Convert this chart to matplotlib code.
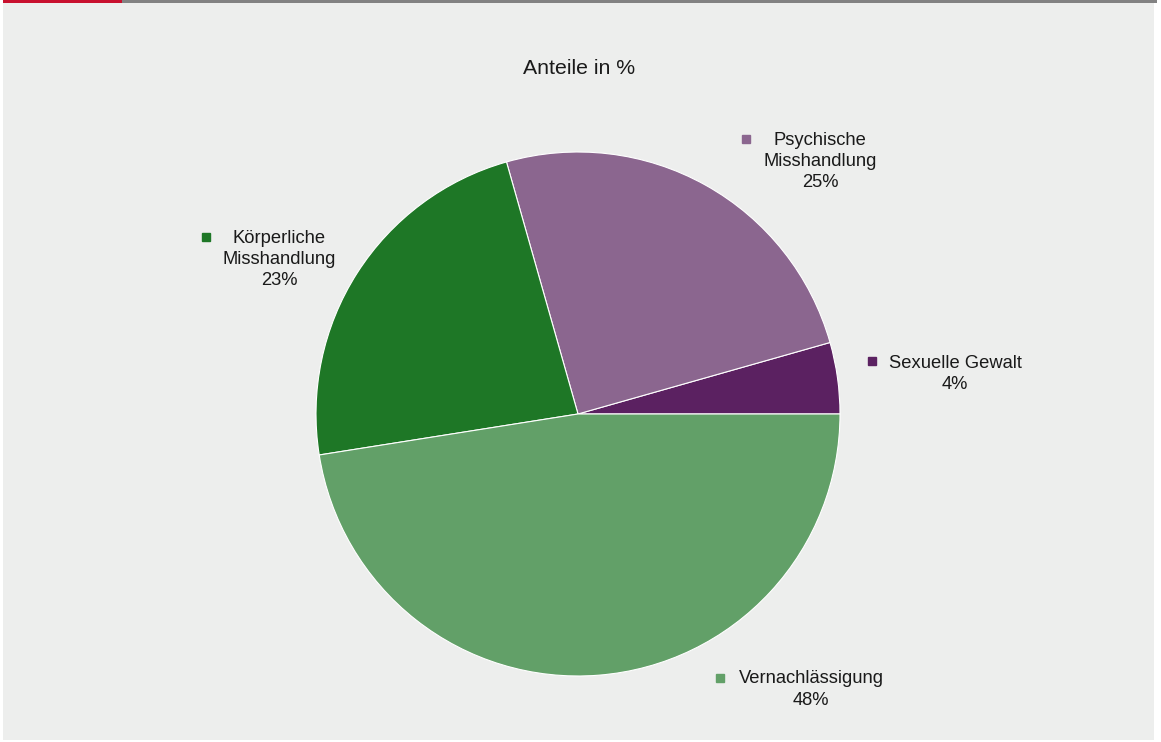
import matplotlib
matplotlib.use('Agg')
import matplotlib.pyplot as plt
from matplotlib.patches import Rectangle

# data (percent shares)
categories = ['Sexuelle Gewalt', 'Psychische Misshandlung', 'Körperliche Misshandlung', 'Vernachlässigung']
label_texts = ['Sexuelle Gewalt\n4%', 'Psychische\nMisshandlung\n25%',
               'Körperliche\nMisshandlung\n23%', 'Vernachlässigung\n48%']
shares = [4.4, 25.0, 23.1, 47.5]
colors = ['#5b2161', '#8b668f', '#1e7726', '#62a068']

# label layout in pixel coords (y from top), marker positions
label_xy = [(955, 374), (820, 161.5), (279, 259.5), (811, 689.5)]
marker_xy = [(872, 361), (746, 139), (206, 237), (720, 678)]

W, H = 1161, 742
bg = '#edeeed'

plt.rcParams['font.family'] = ['Liberation Sans', 'DejaVu Sans']

fig = plt.figure(figsize=(W / 100, H / 100), dpi=100)
fig.patch.set_facecolor('white')

# background panel and top rule
fig.patches.append(Rectangle((3 / W, 2 / H), (1154 - 3) / W, (H - 2) / H,
                             transform=fig.transFigure, facecolor=bg, edgecolor='none', zorder=-2))
fig.patches.append(Rectangle((122 / W, (H - 2.5) / H), (1157 - 122) / W, 2.5 / H,
                             transform=fig.transFigure, facecolor='#828282', edgecolor='none', zorder=-1))
fig.patches.append(Rectangle((3 / W, (H - 2.5) / H), (122 - 3) / W, 2.5 / H,
                             transform=fig.transFigure, facecolor='#c8102e', edgecolor='none', zorder=-1))

ax = fig.add_axes([0, 0, 1, 1])
ax.pie(shares, colors=colors, startangle=0, counterclock=False,
       center=(578, 414), radius=262,
       wedgeprops=dict(edgecolor='white', linewidth=0.8), frame=True)
ax.set_xlim(0, W)
ax.set_ylim(H, 0)
ax.set_aspect('equal')
ax.axis('off')

for txt, (lx, ly), (mx, my), c in zip(label_texts, label_xy, marker_xy, colors):
    ax.text(lx, ly, txt, ha='center', va='center', fontsize=13.2,
            color='#1a1a1a', linespacing=1.32, multialignment='center')
    ax.plot(mx, my, marker='s', markersize=5.5, color=c, linestyle='none')

ax.text(579.5, 68, 'Anteile in %', ha='center', va='center', fontsize=15.3, color='#1a1a1a')

plt.savefig('out.png', dpi=100, facecolor=fig.get_facecolor())
